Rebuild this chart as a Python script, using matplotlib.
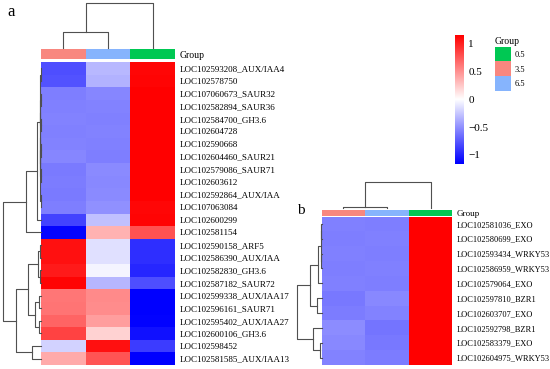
import numpy as np
import matplotlib
matplotlib.use("Agg")
import matplotlib.pyplot as plt
from matplotlib.colors import LinearSegmentedColormap, ListedColormap

W, H = 550, 369
plt.rcParams["font.family"] = ["Liberation Serif", "DejaVu Serif"]

# group annotation
group_levels = ["0.5", "3.5", "6.5"]
group_colors = ["#00c853", "#f8877f", "#86b4fd"]
col_order = ["3.5", "6.5", "0.5"]          # column order after clustering

# panel a: row z-scores, columns follow col_order
genes_a = [
    "LOC102593208_AUX/IAA4", "LOC102578750", "LOC107060673_SAUR32",
    "LOC102582894_SAUR36", "LOC102584700_GH3.6", "LOC102604728",
    "LOC102590668", "LOC102604460_SAUR21", "LOC102579086_SAUR71",
    "LOC102603612", "LOC102592864_AUX/IAA", "LOC107063084",
    "LOC102600299", "LOC102581154", "LOC102590158_ARF5",
    "LOC102586390_AUX/IAA", "LOC102582830_GH3.6", "LOC102587182_SAUR72",
    "LOC102599338_AUX/IAA17", "LOC102596161_SAUR71", "LOC102595402_AUX/IAA27",
    "LOC102600106_GH3.6", "LOC102598452", "LOC102581585_AUX/IAA13",
]
z_a = [
    [-0.80, -0.32, 1.12], [-0.78, -0.35, 1.13], [-0.58, -0.55, 1.15],
    [-0.57, -0.56, 1.15], [-0.56, -0.57, 1.15], [-0.57, -0.56, 1.15],
    [-0.56, -0.57, 1.15], [-0.55, -0.58, 1.15], [-0.60, -0.53, 1.15],
    [-0.59, -0.54, 1.15], [-0.60, -0.53, 1.15], [-0.58, -0.50, 1.12],
    [-0.85, -0.28, 1.13], [-1.13, 0.35, 0.78], [1.08, -0.14, -0.94],
    [1.08, -0.14, -0.94], [1.03, -0.05, -0.98], [1.13, -0.33, -0.80],
    [0.62, 0.53, -1.15], [0.63, 0.52, -1.15], [0.70, 0.44, -1.14],
    [0.85, 0.20, -1.08], [-0.20, 1.08, -0.88], [0.38, 0.77, -1.15],
]
# (left, right, height) merges; leaves 0..n-1 in displayed order
rows_link_a = [
    (2, 3, 0.4), (4, 5, 0.3), (24, 25, 0.6), (6, 7, 0.4), (8, 9, 0.5),
    (27, 28, 0.7), (26, 29, 0.9), (10, 11, 0.5), (30, 31, 1.1), (0, 1, 0.3),
    (33, 32, 1.4), (34, 12, 4.3), (35, 13, 15.0), (14, 15, 0.8), (16, 17, 1.5),
    (37, 38, 3.0), (18, 19, 1.8), (20, 21, 2.5), (40, 41, 6.0), (39, 42, 13.0),
    (22, 23, 9.3), (43, 44, 25.0), (36, 45, 37.7),
]
cols_link_a = [(0, 1, 15.3), (3, 2, 43.7)]

# panel b
genes_b = [
    "LOC102581036_EXO", "LOC102580699_EXO", "LOC102593434_WRKY53",
    "LOC102586959_WRKY53", "LOC102579064_EXO", "LOC102597810_BZR1",
    "LOC102603707_EXO", "LOC102592798_BZR1", "LOC102583379_EXO",
    "LOC102604975_WRKY53",
]
z_b = [
    [-0.57, -0.58, 1.15], [-0.58, -0.57, 1.15], [-0.57, -0.58, 1.15],
    [-0.58, -0.57, 1.15], [-0.57, -0.58, 1.15], [-0.61, -0.54, 1.15],
    [-0.59, -0.56, 1.15], [-0.52, -0.63, 1.15], [-0.54, -0.61, 1.15],
    [-0.56, -0.59, 1.15],
]
rows_link_b = [
    (0, 1, 0.3), (2, 3, 0.4), (10, 11, 0.8), (12, 4, 3.5), (5, 6, 5.0),
    (13, 14, 11.7), (8, 9, 1.5), (7, 16, 9.0), (15, 17, 24.4),
]
cols_link_b = [(0, 1, 0.7), (3, 2, 27.6)]

cmap = LinearSegmentedColormap.from_list("bwr3", ["#0000ff", "#ffffff", "#ff0000"])
VMAX = 1.155
LINE = "#505050"
group_cmap = ListedColormap([group_colors[group_levels.index(g)] for g in col_order])

fig = plt.figure(figsize=(W / 100, H / 100), dpi=100)


def px_axes(x0, y0, x1, y1):
    ax = fig.add_axes([x0 / W, 1 - y1 / H, (x1 - x0) / W, (y1 - y0) / H])
    ax.set_axis_off()
    return ax


def dendro(links, n):
    pos = {i: i + 0.5 for i in range(n)}
    hgt = {i: 0.0 for i in range(n)}
    segs = []
    for k, (a, b, h) in enumerate(links):
        segs.append(([pos[a], pos[a], pos[b], pos[b]], [hgt[a], h, h, hgt[b]]))
        pos[n + k] = (pos[a] + pos[b]) / 2
        hgt[n + k] = h
    return segs, links[-1][2]


def draw_panel(z, genes, rlink, clink, box, fs, bar_gap):
    x0, x1, y_dtop, y_bar, y_hm, y_bot, x_dl = box
    z = np.array(z)
    n = len(genes)

    ax = px_axes(x0, y_hm, x1, y_bot)
    ax.set_axis_on()
    mesh = ax.pcolormesh(z, cmap=cmap, vmin=-VMAX, vmax=VMAX)
    ax.set_xlim(0, 3); ax.set_ylim(n, 0)
    ax.set_xticks([])
    ax.set_yticks(np.arange(n) + 0.5, genes, fontsize=fs)
    ax.yaxis.tick_right()
    ax.tick_params(axis="y", length=0, pad=3.2)
    for s in ax.spines.values():
        s.set_visible(False)

    bx = px_axes(x0, y_bar, x1, y_hm - bar_gap)
    bx.set_axis_on()
    bx.pcolormesh(np.arange(3)[None, :], cmap=group_cmap, vmin=-0.5, vmax=2.5)
    bx.set_xlim(0, 3); bx.set_ylim(1, 0)
    bx.set_xticks([])
    bx.set_yticks([0.5], ["Group"], fontsize=fs + 0.5)
    bx.yaxis.tick_right()
    bx.tick_params(axis="y", length=0, pad=3.2)
    for s in bx.spines.values():
        s.set_visible(False)

    segs, top = dendro(rlink, n)
    lx = px_axes(x_dl, y_hm, x0, y_bot)
    for ys, xs in segs:
        lx.plot(xs, ys, color=LINE, lw=0.8, clip_on=False)
    lx.set_xlim(top, 0); lx.set_ylim(n, 0)

    segs, top = dendro(clink, 3)
    tx = px_axes(x0, y_dtop, x1, y_bar - 1.5)
    for xs, ys in segs:
        tx.plot(xs, ys, color=LINE, lw=0.8, clip_on=False)
    tx.set_xlim(0, 3); tx.set_ylim(0, top)
    return mesh


mesh = draw_panel(z_a, genes_a, rows_link_a, cols_link_a,
                  (41, 175, 3.3, 49, 62, 365, 3.3), 6.5, 3)
draw_panel(z_b, genes_b, rows_link_b, cols_link_b,
           (321.7, 452.3, 181.7, 209.5, 216.5, 365, 297.3), 6.0, 0.8)

# colour scale
cax = fig.add_axes([455 / W, 1 - 163.5 / H, 9 / W, 128.5 / H])
cb = fig.colorbar(mesh, cax=cax, ticks=[-1, -0.5, 0, 0.5, 1])
cb.ax.set_yticklabels(["\u22121", "\u22120.5", "0", "0.5", "1"], fontsize=8)
cb.ax.tick_params(length=0, pad=3)
cb.outline.set_visible(False)

# group legend
gx = px_axes(495, 46.7, 511, 90.7)
gx.set_axis_on()
gx.pcolormesh(np.arange(3)[:, None], cmap=ListedColormap(group_colors), vmin=-0.5, vmax=2.5)
gx.set_xlim(0, 1); gx.set_ylim(3, 0)
gx.set_xticks([])
gx.set_yticks(np.arange(3) + 0.5, group_levels, fontsize=6)
gx.yaxis.tick_right()
gx.tick_params(axis="y", length=0, pad=2.5)
for s in gx.spines.values():
    s.set_visible(False)
gx.set_title("Group", loc="left", fontsize=7, pad=2)

fig.text(7 / W, 1 - 12 / H, "a", fontsize=12, va="center", ha="left")
fig.text(297 / W, 1 - 211 / H, "b", fontsize=11, va="center", ha="left")

fig.savefig("out.png", dpi=100)
